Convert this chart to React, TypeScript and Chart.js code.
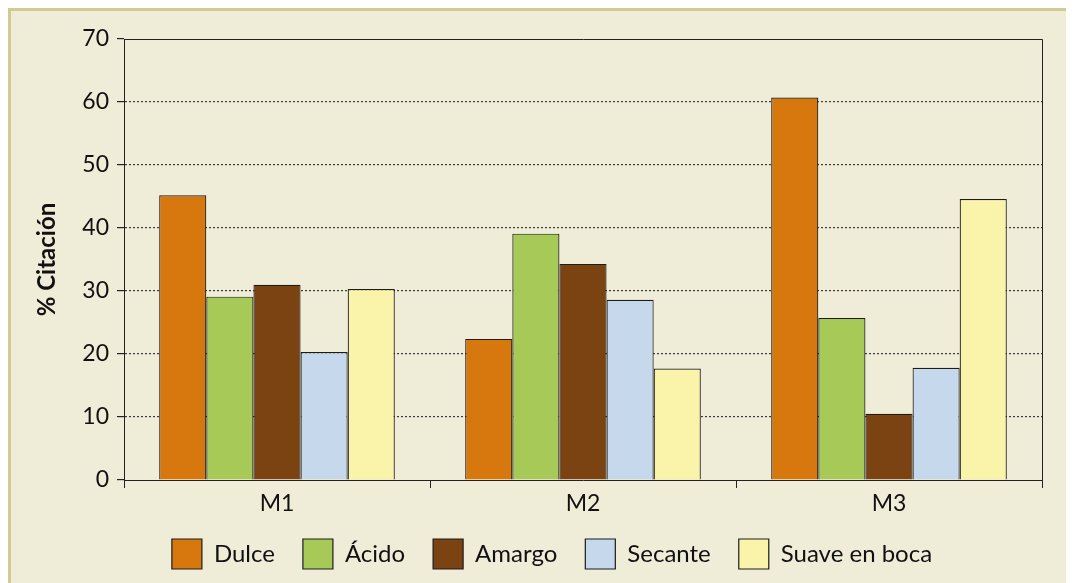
import React, { useEffect, useRef } from "react";
import { Chart, registerables } from "chart.js";

Chart.register(...registerables);

const categories = ["M1", "M2", "M3"];
const seriesNames = ["Dulce", "Ácido", "Amargo", "Secante", "Suave en boca"];
const dulce = [45.2, 22.4, 60.7];
const acido = [29.1, 39.1, 25.7];
const amargo = [31.0, 34.3, 10.5];
const secante = [20.3, 28.6, 17.8];
const suave = [30.3, 17.7, 44.6];
const seriesColors = ["#D7780E", "#A6C958", "#7B4311", "#C5D8EC", "#FAF4AA"];
const yTitle = "% Citación";

const FONT = "Lato, 'Open Sans', sans-serif";

const framePlugin = {
  id: "frame",
  afterDatasetsDraw(chart: any) {
    const { ctx, chartArea } = chart;
    ctx.save();
    ctx.strokeStyle = "#222";
    ctx.lineWidth = 1;
    ctx.beginPath();
    ctx.moveTo(chartArea.left, chartArea.top + 0.5);
    ctx.lineTo(chartArea.right + 0.5, chartArea.top + 0.5);
    ctx.lineTo(chartArea.right + 0.5, chartArea.bottom);
    ctx.stroke();
    ctx.restore();
  },
};

export default function App() {
  const ref = useRef<HTMLCanvasElement | null>(null);
  useEffect(() => {
    document.documentElement.style.overflow = "hidden";
    document.body.style.overflow = "hidden";
    if (!ref.current) return;
    const values = [dulce, acido, amargo, secante, suave];
    const chart = new Chart(ref.current, {
      type: "bar",
      data: {
        labels: categories,
        datasets: seriesNames.map((n, i) => ({
          label: n,
          data: values[i],
          backgroundColor: seriesColors[i],
          borderColor: "#1c1c1c",
          borderWidth: 1.2,
          categoryPercentage: 0.77,
          barPercentage: 1,
        })),
      },
      options: {
        animation: false,
        responsive: true,
        maintainAspectRatio: false,
        layout: { padding: { left: 51, right: 24, top: 28, bottom: 4 } },
        plugins: {
          tooltip: { enabled: false },
          legend: {
            position: "bottom",
            labels: {
              boxWidth: 30,
              boxHeight: 30,
              padding: 28,
              color: "#111",
              font: { family: FONT, size: 24 },
            },
          },
        },
        scales: {
          x: {
            afterFit: (s: any) => {
              s.height = 31;
            },
            grid: {
              drawOnChartArea: false,
              drawTicks: true,
              tickLength: 8,
              tickColor: "#222",
              offset: true,
            },
            border: { display: true, color: "#222", width: 1 },
            ticks: {
              color: "#111",
              padding: 2,
              font: { family: FONT, size: 23 },
            },
          },
          y: {
            min: 0,
            max: 70,
            afterFit: (s: any) => {
              s.width = 62;
            },
            ticks: {
              stepSize: 10,
              color: "#111",
              padding: 8,
              font: { family: FONT, size: 23 },
            },
            grid: {
              color: (c: any) =>
                c.tick && (c.tick.value === 0 || c.tick.value === 70) ? "rgba(0,0,0,0)" : "#3a3a3a",
              lineWidth: 1.2,
              tickLength: 7,
              tickColor: "#222",
              tickBorderDash: [],
            },
            border: { display: true, color: "#222", width: 1, dash: [2, 2] },
            title: {
              display: true,
              text: yTitle,
              color: "#111",
              font: { family: FONT, size: 24, weight: "bold" },
              padding: { top: -29, bottom: 0 },
            },
          },
        },
      },
      plugins: [framePlugin],
    });
    return () => chart.destroy();
  }, []);

  return (
    <div
      style={{
        width: 1061,
        height: 575,
        boxSizing: "border-box",
        borderTop: "3px solid #D2C994",
        borderLeft: "3px solid #D2C994",
        borderRight: "3px solid #D2C994",
        background: "#EFECD8",
      }}
    >
      <div style={{ position: "relative", width: 1055, height: 572 }}>
        <canvas ref={ref} />
      </div>
    </div>
  );
}
